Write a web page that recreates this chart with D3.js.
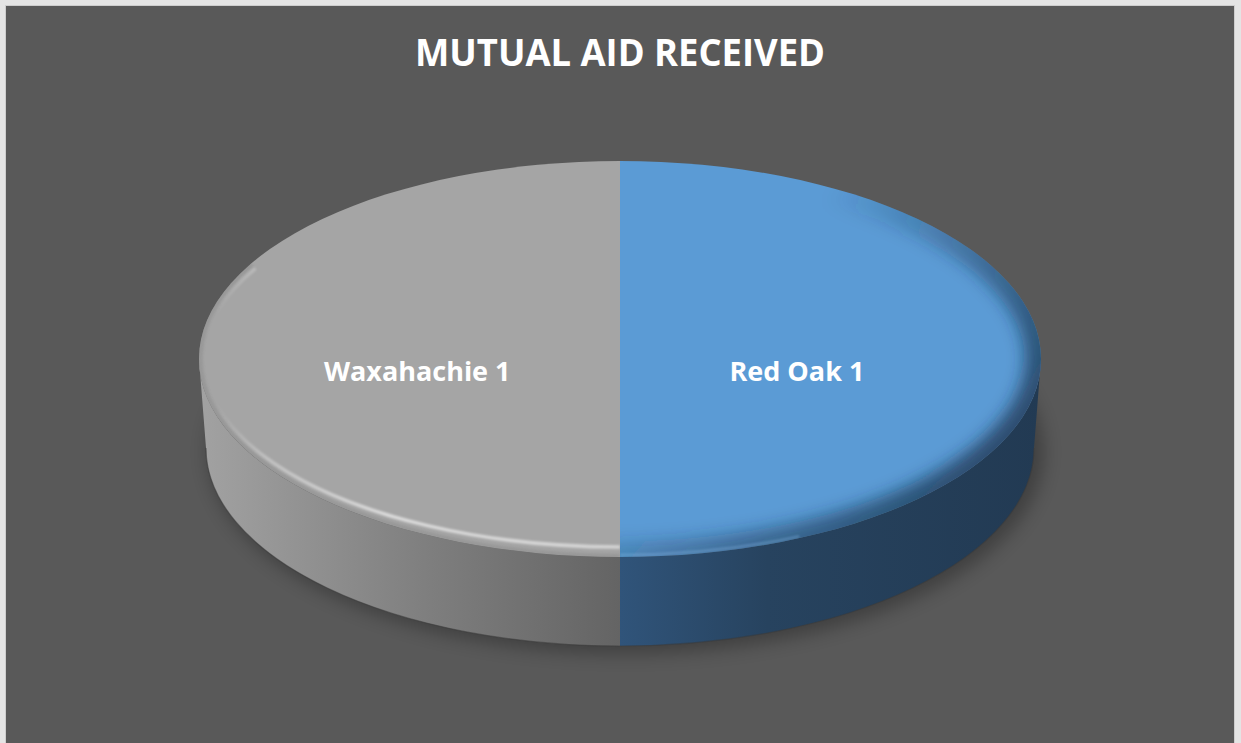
<!DOCTYPE html>
<html>
<head>
<meta charset="utf-8">
<script src="https://cdn.jsdelivr.net/npm/d3@7"></script>
<style>
  html, body { margin: 0; padding: 0; background: #e4e4e4; }
  svg { display: block; }
</style>
</head>
<body>
<svg id="chart" width="1241" height="743"></svg>
<script>
// Mutual aid received, by department
const categories = ["Red Oak", "Waxahachie"];
const values = [1, 1];
const chartTitle = "MUTUAL AID RECEIVED";

const svg = d3.select("#chart");

// Chart background panel
svg.append("rect")
  .attr("x", 5.5).attr("y", 5.5)
  .attr("width", 1229).attr("height", 740)
  .attr("fill", "#595959")
  .attr("stroke", "#cdcdcd").attr("stroke-width", 1);

// Title
svg.append("text")
  .attr("x", 620).attr("y", 66)
  .attr("text-anchor", "middle")
  .attr("font-family", "'Open Sans', sans-serif")
  .attr("font-weight", 700)
  .attr("font-size", 38)
  .attr("textLength", 410)
  .attr("lengthAdjust", "spacingAndGlyphs")
  .attr("fill", "#ffffff")
  .text(chartTitle);

// Geometry of the tilted disc: top face ellipse and bottom rim ellipse
const topE = { cx: 620, cy: 359, rx: 421, ry: 198 };
const botE = { cx: 620, cy: 448, rx: 414, ry: 198 };
function pt(e, a, k = 1) {
  return [e.cx + k * e.rx * Math.sin(a), e.cy - k * e.ry * Math.cos(a)];
}

const color = d3.scaleOrdinal().domain(categories).range(["#5b9bd5", "#a5a5a5"]);
const sideStops = {
  "Red Oak": [["0%", "#30547a"], ["35%", "#27435f"], ["100%", "#223a53"]],
  "Waxahachie": [["0%", "#a2a2a2"], ["55%", "#7e7e7e"], ["100%", "#646464"]]
};

const data = categories.map((c, i) => ({ name: c, value: values[i] }));
const pie = d3.pie().sort(null).value(d => d.value);
const arcs = pie(data);

const defs = svg.append("defs");

// Filters
function blurFilter(id, sd, pad) {
  defs.append("filter").attr("id", id)
    .attr("x", -pad).attr("y", -pad).attr("width", 1 + 2 * pad).attr("height", 1 + 2 * pad)
    .append("feGaussianBlur").attr("stdDeviation", sd);
}
blurFilter("shadowBlur", 9, 0.2);
blurFilter("softBlur", 8, 0.2);
blurFilter("lineBlur", 1.1, 0.1);

function topPath(d) {
  const p0 = pt(topE, d.startAngle), p1 = pt(topE, d.endAngle);
  const large = d.endAngle - d.startAngle > Math.PI ? 1 : 0;
  return `M${topE.cx},${topE.cy}L${p0}A${topE.rx},${topE.ry} 0 ${large} 1 ${p1}Z`;
}
function visibleRange(d) {
  return [Math.max(d.startAngle, Math.PI / 2), Math.min(d.endAngle, 3 * Math.PI / 2)];
}
function sidePath(d) {
  const [s, e] = visibleRange(d);
  if (e <= s) return null;
  const t0 = pt(topE, s), t1 = pt(topE, e), b0 = pt(botE, s), b1 = pt(botE, e);
  return `M${t0}A${topE.rx},${topE.ry} 0 0 1 ${t1}L${b1}A${botE.rx},${botE.ry} 0 0 0 ${b0}Z`;
}

// Side gradients, horizontal across each wall
arcs.forEach((d, i) => {
  const [s, e] = visibleRange(d);
  const xa = pt(topE, s)[0], xb = pt(topE, e)[0];
  const g = defs.append("linearGradient").attr("id", "side" + i)
    .attr("gradientUnits", "userSpaceOnUse")
    .attr("x1", Math.min(xa, xb)).attr("x2", Math.max(xa, xb))
    .attr("y1", 0).attr("y2", 0);
  sideStops[d.data.name].forEach(([o, c]) => g.append("stop").attr("offset", o).attr("stop-color", c));
  defs.append("clipPath").attr("id", "clipTop" + i).append("path").attr("d", topPath(d));
});

// Soft shadow under the disc
svg.append("ellipse")
  .attr("cx", botE.cx + 6).attr("cy", botE.cy + 4)
  .attr("rx", botE.rx + 4).attr("ry", botE.ry + 4)
  .attr("fill", "#000").attr("opacity", 0.28)
  .attr("filter", "url(#shadowBlur)");

// Side walls
svg.append("g").selectAll("path")
  .data(arcs)
  .join("path")
  .attr("d", d => sidePath(d))
  .attr("fill", (d, i) => `url(#side${i})`);

// Thin dark edge along the bottom rim
svg.append("path")
  .attr("d", () => {
    const a = pt(botE, Math.PI / 2), b = pt(botE, 3 * Math.PI / 2);
    return `M${a}A${botE.rx},${botE.ry} 0 0 1 ${b}`;
  })
  .attr("fill", "none").attr("stroke", "#3a3a3a")
  .attr("stroke-width", 1.2).attr("opacity", 0.55);

// Top faces
svg.append("g").selectAll("path")
  .data(arcs)
  .join("path")
  .attr("d", topPath)
  .attr("fill", d => color(d.data.name));

// Bevel lighting on the top faces
const fullEllipse = e =>
  `M${e.cx - e.rx},${e.cy}A${e.rx},${e.ry} 0 1 1 ${e.cx + e.rx},${e.cy}A${e.rx},${e.ry} 0 1 1 ${e.cx - e.rx},${e.cy}Z`;

arcs.forEach((d, i) => {
  const g = svg.append("g").attr("clip-path", `url(#clipTop${i})`);
  if (d.data.name === "Red Oak") {
    // shaded rim facing away from the light, fading out toward the front
    const sg = defs.append("linearGradient").attr("id", "shade" + i)
      .attr("gradientUnits", "userSpaceOnUse")
      .attr("x1", 780).attr("y1", 250).attr("x2", 1010).attr("y2", 450);
    sg.append("stop").attr("offset", "0%").attr("stop-color", "#17304a").attr("stop-opacity", 0);
    sg.append("stop").attr("offset", "55%").attr("stop-color", "#17304a").attr("stop-opacity", 0.45);
    sg.append("stop").attr("offset", "100%").attr("stop-color", "#17304a").attr("stop-opacity", 0.75);
    g.append("path")
      .attr("d", fullEllipse(topE))
      .attr("fill", "none").attr("stroke", `url(#shade${i})`)
      .attr("stroke-width", 32)
      .attr("filter", "url(#softBlur)");
    const lip = { ...topE, ry: topE.ry - 2 };
    const q0 = pt(lip, 0.86 * Math.PI), q1 = pt(lip, Math.PI);
    g.append("path")
      .attr("d", `M${q0}A${lip.rx},${lip.ry} 0 0 1 ${q1}`)
      .attr("fill", "none").attr("stroke", "#8fc0ec")
      .attr("stroke-width", 3).attr("opacity", 0.3).attr("filter", "url(#lineBlur)");
  } else {
    // highlight line just inside the lit rim
    const inner = { cx: topE.cx, cy: topE.cy, rx: topE.rx - 5, ry: topE.ry - 10 };
    const hg = defs.append("linearGradient").attr("id", "hl" + i)
      .attr("gradientUnits", "userSpaceOnUse")
      .attr("x1", topE.cx - topE.rx).attr("x2", topE.cx).attr("y1", 0).attr("y2", 0);
    hg.append("stop").attr("offset", "4%").attr("stop-color", "#fff").attr("stop-opacity", 0);
    hg.append("stop").attr("offset", "16%").attr("stop-color", "#fff").attr("stop-opacity", 0.3);
    hg.append("stop").attr("offset", "45%").attr("stop-color", "#fff").attr("stop-opacity", 0.6);
    hg.append("stop").attr("offset", "100%").attr("stop-color", "#fff").attr("stop-opacity", 0.5);
    const a0 = Math.PI, a1 = 1.66 * Math.PI;
    const p0 = pt(inner, a0), p1 = pt(inner, a1);
    // darker band between highlight and edge
    g.append("path")
      .attr("d", `M${pt(topE, a0, 0.999)}A${topE.rx},${topE.ry} 0 0 1 ${pt(topE, a1, 0.999)}`)
      .attr("fill", "none").attr("stroke", "#8a8a8a")
      .attr("stroke-width", 6).attr("opacity", 0.45).attr("filter", "url(#lineBlur)");
    g.append("path")
      .attr("d", `M${p0}A${inner.rx},${inner.ry} 0 0 1 ${p1}`)
      .attr("fill", "none").attr("stroke", `url(#hl${i})`)
      .attr("stroke-width", 3.5)
      .attr("filter", "url(#lineBlur)");
  }
});

// Data labels
svg.append("g").selectAll("text")
  .data(arcs)
  .join("text")
  .attr("x", d => {
    const m = (d.startAngle + d.endAngle) / 2;
    return topE.cx + Math.sin(m) * topE.rx * 0.26;
  })
  .attr("y", d => {
    const m = (d.startAngle + d.endAngle) / 2;
    return topE.cy - Math.cos(m) * topE.ry * 0.26 + 22;
  })
  .attr("text-anchor", d => Math.sin((d.startAngle + d.endAngle) / 2) > 0 ? "start" : "end")
  .attr("font-family", "'Open Sans', sans-serif")
  .attr("font-weight", 700)
  .attr("font-size", 27)
  .attr("fill", "#ffffff")
  .text(d => `${d.data.name} ${d.data.value}`);
</script>
</body>
</html>
